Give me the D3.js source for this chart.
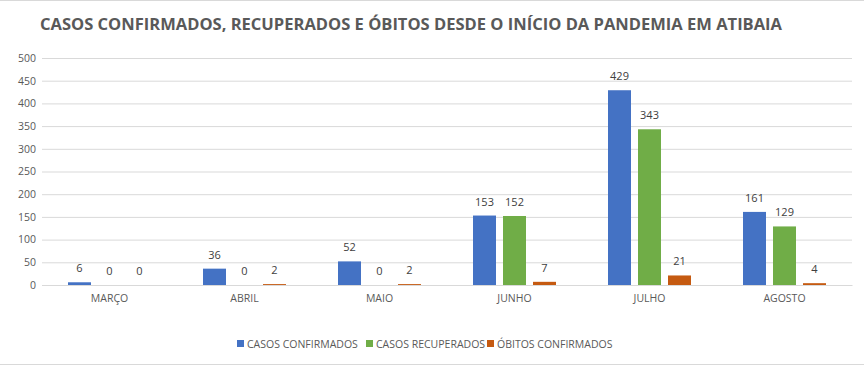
<!DOCTYPE html>
<html><head><meta charset="utf-8">
<script src="https://cdn.jsdelivr.net/npm/d3@7"></script>
<style>body{margin:0;background:#fff}svg{display:block}text{font-family:"Open Sans",sans-serif}</style>
</head><body><svg id="c" width="864" height="365"></svg>
<script>
const categories = ["MARÇO","ABRIL","MAIO","JUNHO","JULHO","AGOSTO"];
const seriesNames = ["CASOS CONFIRMADOS","CASOS RECUPERADOS","ÓBITOS CONFIRMADOS"];
const confirmados = [6,36,52,153,429,161];
const recuperados = [0,0,0,152,343,129];
const obitos = [0,2,2,7,21,4];
const yTicks = [0,50,100,150,200,250,300,350,400,450,500];
const colors = ["#4472C4","#70AD47","#C55A11"];
const series = [confirmados, recuperados, obitos];

const svg = d3.select("#c");
svg.append("line").attr("x1",0).attr("x2",864).attr("y1",0.5).attr("y2",0.5).attr("stroke","#d9d9d9");
svg.append("line").attr("x1",0).attr("x2",864).attr("y1",364.5).attr("y2",364.5).attr("stroke","#d9d9d9");

const x = d3.scaleBand().domain(categories).range([42,852]);
const x1 = d3.scaleBand().domain(d3.range(3)).range([0,83]).paddingInner(7/30).paddingOuter(0);
const y = d3.scaleLinear().domain([0,500]).range([285,58]);

// title
svg.append("text").attr("x",411).attr("y",30).attr("text-anchor","middle")
  .attr("font-size",16.5).attr("font-weight","bold").attr("fill","#595959")
  .attr("textLength",742).attr("lengthAdjust","spacingAndGlyphs")
  .text("CASOS CONFIRMADOS, RECUPERADOS E ÓBITOS DESDE O INÍCIO DA PANDEMIA EM ATIBAIA");

// grid
const yAxis = d3.axisLeft(y).tickValues(yTicks).tickSize(-(852-42)).tickPadding(6);
const ga = svg.append("g").attr("transform","translate(42,0)").call(yAxis);
ga.select(".domain").remove();
ga.selectAll(".tick line").attr("stroke","#d9d9d9");
ga.selectAll(".tick text").attr("fill","#595959").attr("font-size",10.5).attr("font-family","Open Sans");

const xAxis = d3.axisBottom(x).tickSize(0).tickPadding(10);
const gx = svg.append("g").attr("transform","translate(0,285)").call(xAxis);
gx.select(".domain").attr("stroke","#d9d9d9");
gx.selectAll(".tick text").attr("fill","#595959").attr("font-size",10.5).attr("font-family","Open Sans");

const groupOffset = 26;
series.forEach((vals,si)=>{
  const g = svg.append("g");
  g.selectAll("rect").data(vals).join("rect")
    .attr("x",(d,i)=>x(categories[i])+groupOffset+x1(si))
    .attr("width",x1.bandwidth())
    .attr("y",d=>y(d)).attr("height",d=>y(0)-y(d))
    .attr("fill",colors[si]);
  g.selectAll("text").data(vals).join("text")
    .attr("x",(d,i)=>x(categories[i])+groupOffset+x1(si)+x1.bandwidth()/2)
    .attr("y",d=>y(d)-10)
    .attr("text-anchor","middle").attr("font-size",11).attr("fill","#404040")
    .text(d=>d);
});

// legend
const legX = [237,366,487];
seriesNames.forEach((n,i)=>{
  svg.append("rect").attr("x",legX[i]).attr("y",340).attr("width",7).attr("height",7).attr("fill",colors[i]);
  svg.append("text").attr("x",legX[i]+10).attr("y",347.5).attr("font-size",10.5).attr("fill","#595959").text(n);
});
</script></body></html>
